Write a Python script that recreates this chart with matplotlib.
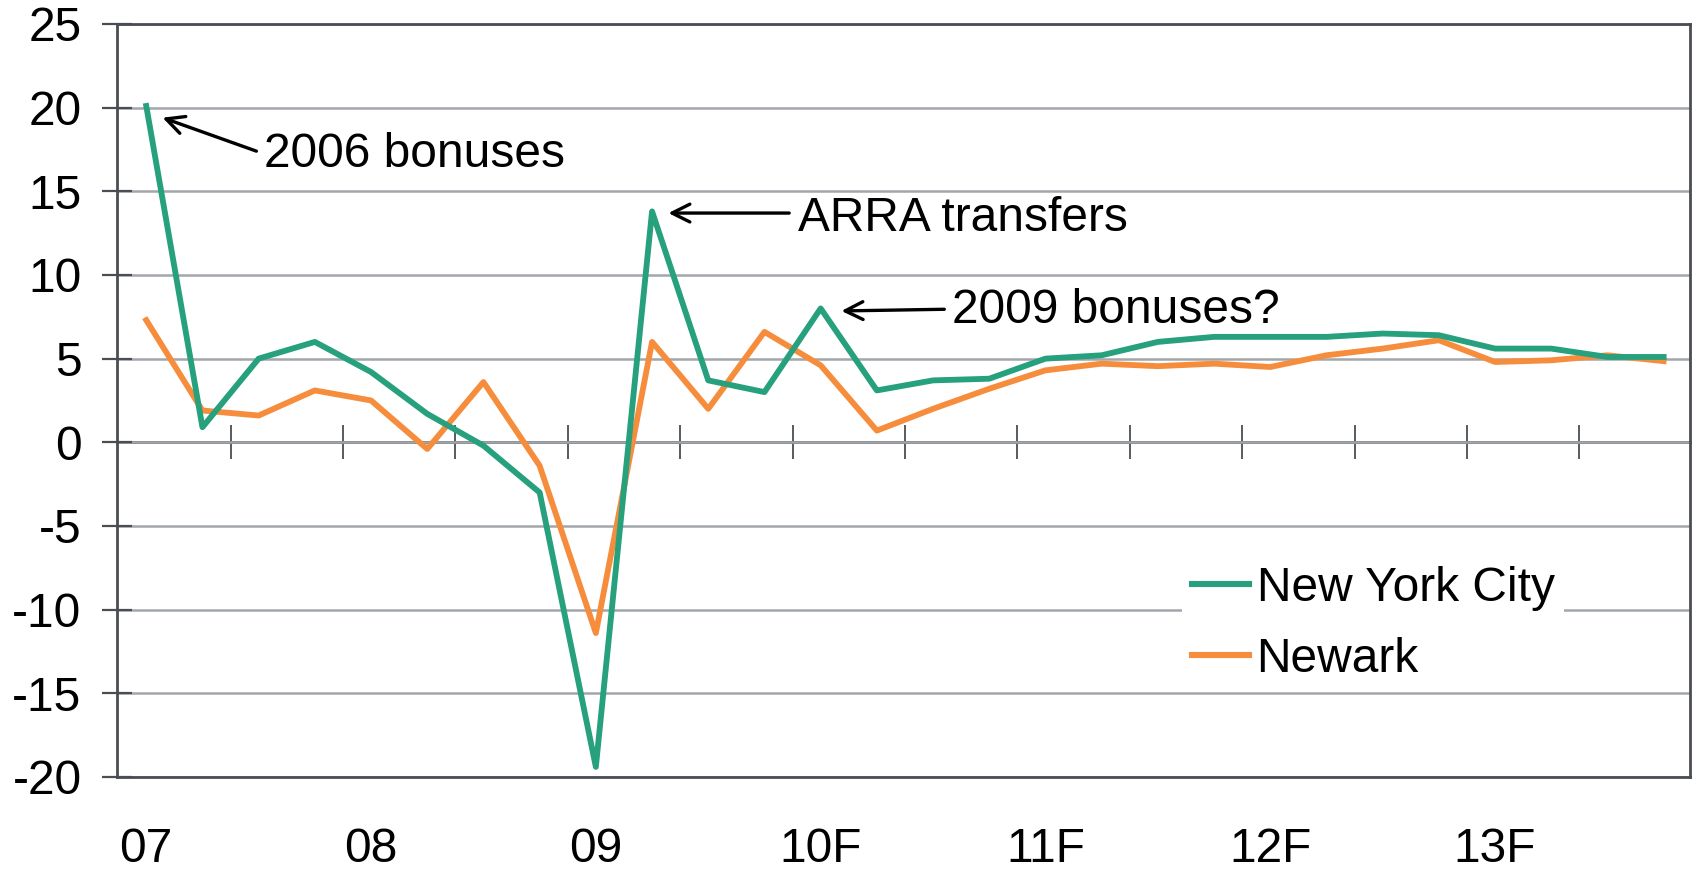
import numpy as np
import matplotlib
matplotlib.use("Agg")
import matplotlib.pyplot as plt

plt.rcParams["font.family"] = ["Liberation Sans", "DejaVu Sans"]
plt.rcParams["axes.unicode_minus"] = False

# ── Data: quarterly growth, 2007Q1 .. 2013Q4 ──────────────
nyc = [20.1, 0.9, 5.0, 6.0, 4.2, 1.7, -0.2, -3.0,
       -19.4, 13.8, 3.7, 3.0, 8.0, 3.1, 3.7, 3.8,
       5.0, 5.2, 6.0, 6.3, 6.3, 6.3, 6.5, 6.4,
       5.6, 5.6, 5.1, 5.1]
newark = [7.3, 1.9, 1.6, 3.1, 2.5, -0.4, 3.6, -1.4,
          -11.4, 6.0, 2.0, 6.6, 4.6, 0.7, 2.0, 3.2,
          4.3, 4.7, 4.55, 4.7, 4.5, 5.2, 5.6, 6.1,
          4.8, 4.9, 5.2, 4.85]
year_labels = ["07", "08", "09", "10F", "11F", "12F", "13F"]
series_names = ["New York City", "Newark"]

NYC_COLOR = "#27a07d"
NWK_COLOR = "#f68d3d"
DARK = "#4a4e54"
GRID = "#a3a6aa"
FS = 34.5

x = np.arange(len(nyc))

fig = plt.figure(figsize=(16.96, 8.72), dpi=100)
ax = fig.add_axes([0.069, 0.109, 0.9275, 0.8635])

ax.plot(x, nyc, color=NYC_COLOR, lw=4.2, label=series_names[0], zorder=4)
ax.plot(x, newark, color=NWK_COLOR, lw=4.2, label=series_names[1], zorder=3)

ax.set_xlim(-0.52, 27.47)
ax.set_ylim(-20, 25)
ax.set_yticks(np.arange(-20, 26, 5))
ax.yaxis.grid(True, color=GRID, lw=1.8)
ax.set_axisbelow(True)

for s in ax.spines.values():
    s.set_color(DARK)
    s.set_linewidth(2.0)

ax.tick_params(axis="y", direction="inout", length=21, width=1.6,
               color=DARK, labelsize=FS, pad=15)

# year labels far below the plot, no marks
ax.set_xticks(np.arange(0, len(nyc), 4))
ax.set_xticklabels(year_labels)
ax.tick_params(axis="x", length=0, labelsize=FS, pad=36)

# zero line with half-year tick marks
sec = ax.secondary_xaxis(20 / 45)
sec.set_xticks(np.arange(1.5, 26, 2))
sec.set_xticklabels([])
sec.spines["bottom"].set_color(DARK)
sec.spines["bottom"].set_linewidth(2.0)
sec.tick_params(direction="inout", length=25, width=1.3, color=DARK)

# annotations
arrow = dict(arrowstyle="->", color="black", lw=2.4, mutation_scale=32,
             shrinkA=0, shrinkB=0)
ax.annotate("", xy=(0.29, 19.4), xytext=(1.96, 17.4), arrowprops=arrow)
ax.text(2.1, 17.2, "2006 bonuses", fontsize=FS, va="center", ha="left")
ax.annotate("", xy=(9.29, 13.7), xytext=(11.44, 13.7), arrowprops=arrow)
ax.text(11.6, 13.35, "ARRA transfers", fontsize=FS, va="center", ha="left")
ax.annotate("", xy=(12.37, 7.85), xytext=(14.2, 7.95), arrowprops=arrow)
ax.text(14.33, 7.85, "2009 bonuses?", fontsize=FS, va="center", ha="left")

leg = ax.legend(loc="upper left", bbox_to_anchor=(0.662, 0.325),
                fontsize=FS, frameon=True, fancybox=False,
                handlelength=1.2, handletextpad=0.15, labelspacing=0.55,
                borderpad=0.2)
leg.get_frame().set_facecolor("white")
leg.get_frame().set_edgecolor("none")
leg.get_frame().set_alpha(1)
for h in leg.get_lines():
    h.set_linewidth(4.4)

fig.savefig("out.png", dpi=100)
